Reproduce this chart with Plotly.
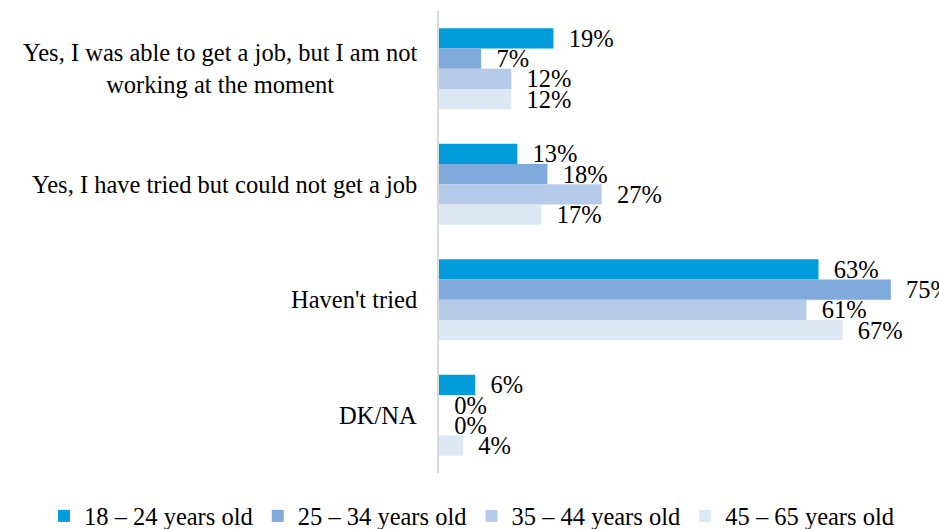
import plotly.graph_objects as go

categories = [
    "Yes, I was able to get a job, but I am not<br>working at the moment",
    "Yes, I have tried but could not get a job",
    "Haven't tried",
    "DK/NA",
]
series_names = ["18 – 24 years old", "25 – 34 years old", "35 – 44 years old", "45 – 65 years old"]
age_18_24 = [19, 13, 63, 6]
age_25_34 = [7, 18, 75, 0]
age_35_44 = [12, 27, 61, 0]
age_45_65 = [12, 17, 67, 4]
colors = ["#009cdb", "#7faadb", "#b5cae8", "#dde8f5"]

FONT = "Liberation Serif"
FS = 24.5

fig = go.Figure()
for name, vals, col in zip(series_names, [age_18_24, age_25_34, age_35_44, age_45_65], colors):
    fig.add_trace(go.Bar(
        y=categories, x=vals, name=name, orientation="h",
        marker=dict(color=col, line=dict(width=0)),
        text=["\u00a0\u00a0%d%%" % v for v in vals],
        textposition="outside", constraintext="none", cliponaxis=False,
        textfont=dict(family=FONT, size=FS, color="#000000"),
        hoverinfo="skip",
    ))

annotations = []
for c in categories:
    annotations.append(dict(
        x=0, y=c, xref="x", yref="y", xshift=-20, xanchor="right", yanchor="middle",
        text=c, align="center", showarrow=False,
        font=dict(family=FONT, size=FS, color="#000000"),
    ))

fig.update_layout(
    width=939, height=529,
    margin=dict(l=439, r=0, t=11, b=56, autoexpand=False),
    barmode="group", bargap=0.3, bargroupgap=0,
    plot_bgcolor="white", paper_bgcolor="white",
    font=dict(family=FONT, size=FS, color="#000000"),
    showlegend=True,
    legend=dict(orientation="h", x=-0.79, xanchor="left", y=-0.093, yanchor="middle",
                font=dict(family=FONT, size=FS, color="#000000"), traceorder="normal"),
    annotations=annotations,
    xaxis=dict(range=[0, 83], showgrid=False, zeroline=False, showticklabels=False, showline=False),
    yaxis=dict(autorange="reversed", showticklabels=False, showgrid=False, zeroline=False,
               showline=True, linecolor="#d9d9d9", linewidth=2, ticks=""),
)

fig.write_html("out.html")
